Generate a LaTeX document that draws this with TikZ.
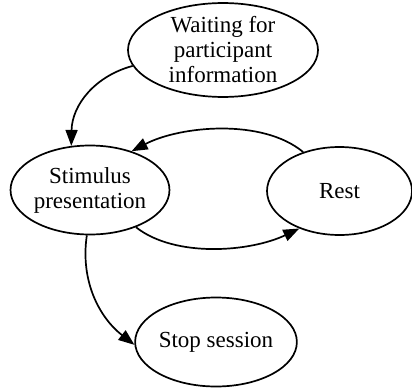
\documentclass[tikz,border=0pt]{standalone}
\usepackage{fontspec}
\setmainfont{Liberation Serif}
\usetikzlibrary{shapes.geometric,arrows.meta}
\begin{document}
\begin{tikzpicture}[x=1pt,y=-1pt,
  state/.style={draw,ellipse,line width=1.7pt,inner sep=0pt,align=center,
    font=\fontsize{23}{25}\selectfont},
  conn/.style={line width=1.7pt,-{Triangle[length=16pt,width=12pt]}}]
\useasboundingbox (0,0) rectangle (412,388);
\node[state,minimum width=190pt,minimum height=88pt] (wait) at (223,50) {Waiting for\\participant\\information};
\node[state,minimum width=154pt,minimum height=89pt] (stim) at (90,190) {Stimulus\\presentation};
\node[state,minimum width=145pt,minimum height=88pt] (rest) at (339.5,191) {Rest};
\node[state,minimum width=155pt,minimum height=89pt] (stop) at (216,342) {Stop session};
\draw[conn] (wait.190) .. controls (95,76) and (72,105) .. (stim.113);
\draw[conn] (rest.133) .. controls (262,118) and (180,126) .. (stim.43);
\draw[conn] (stim.-39) .. controls (175,258) and (250,252) .. (rest.223);
\draw[conn] (stim.-94) .. controls (80,282) and (100,318) .. (stop.182);
\end{tikzpicture}
\end{document}
